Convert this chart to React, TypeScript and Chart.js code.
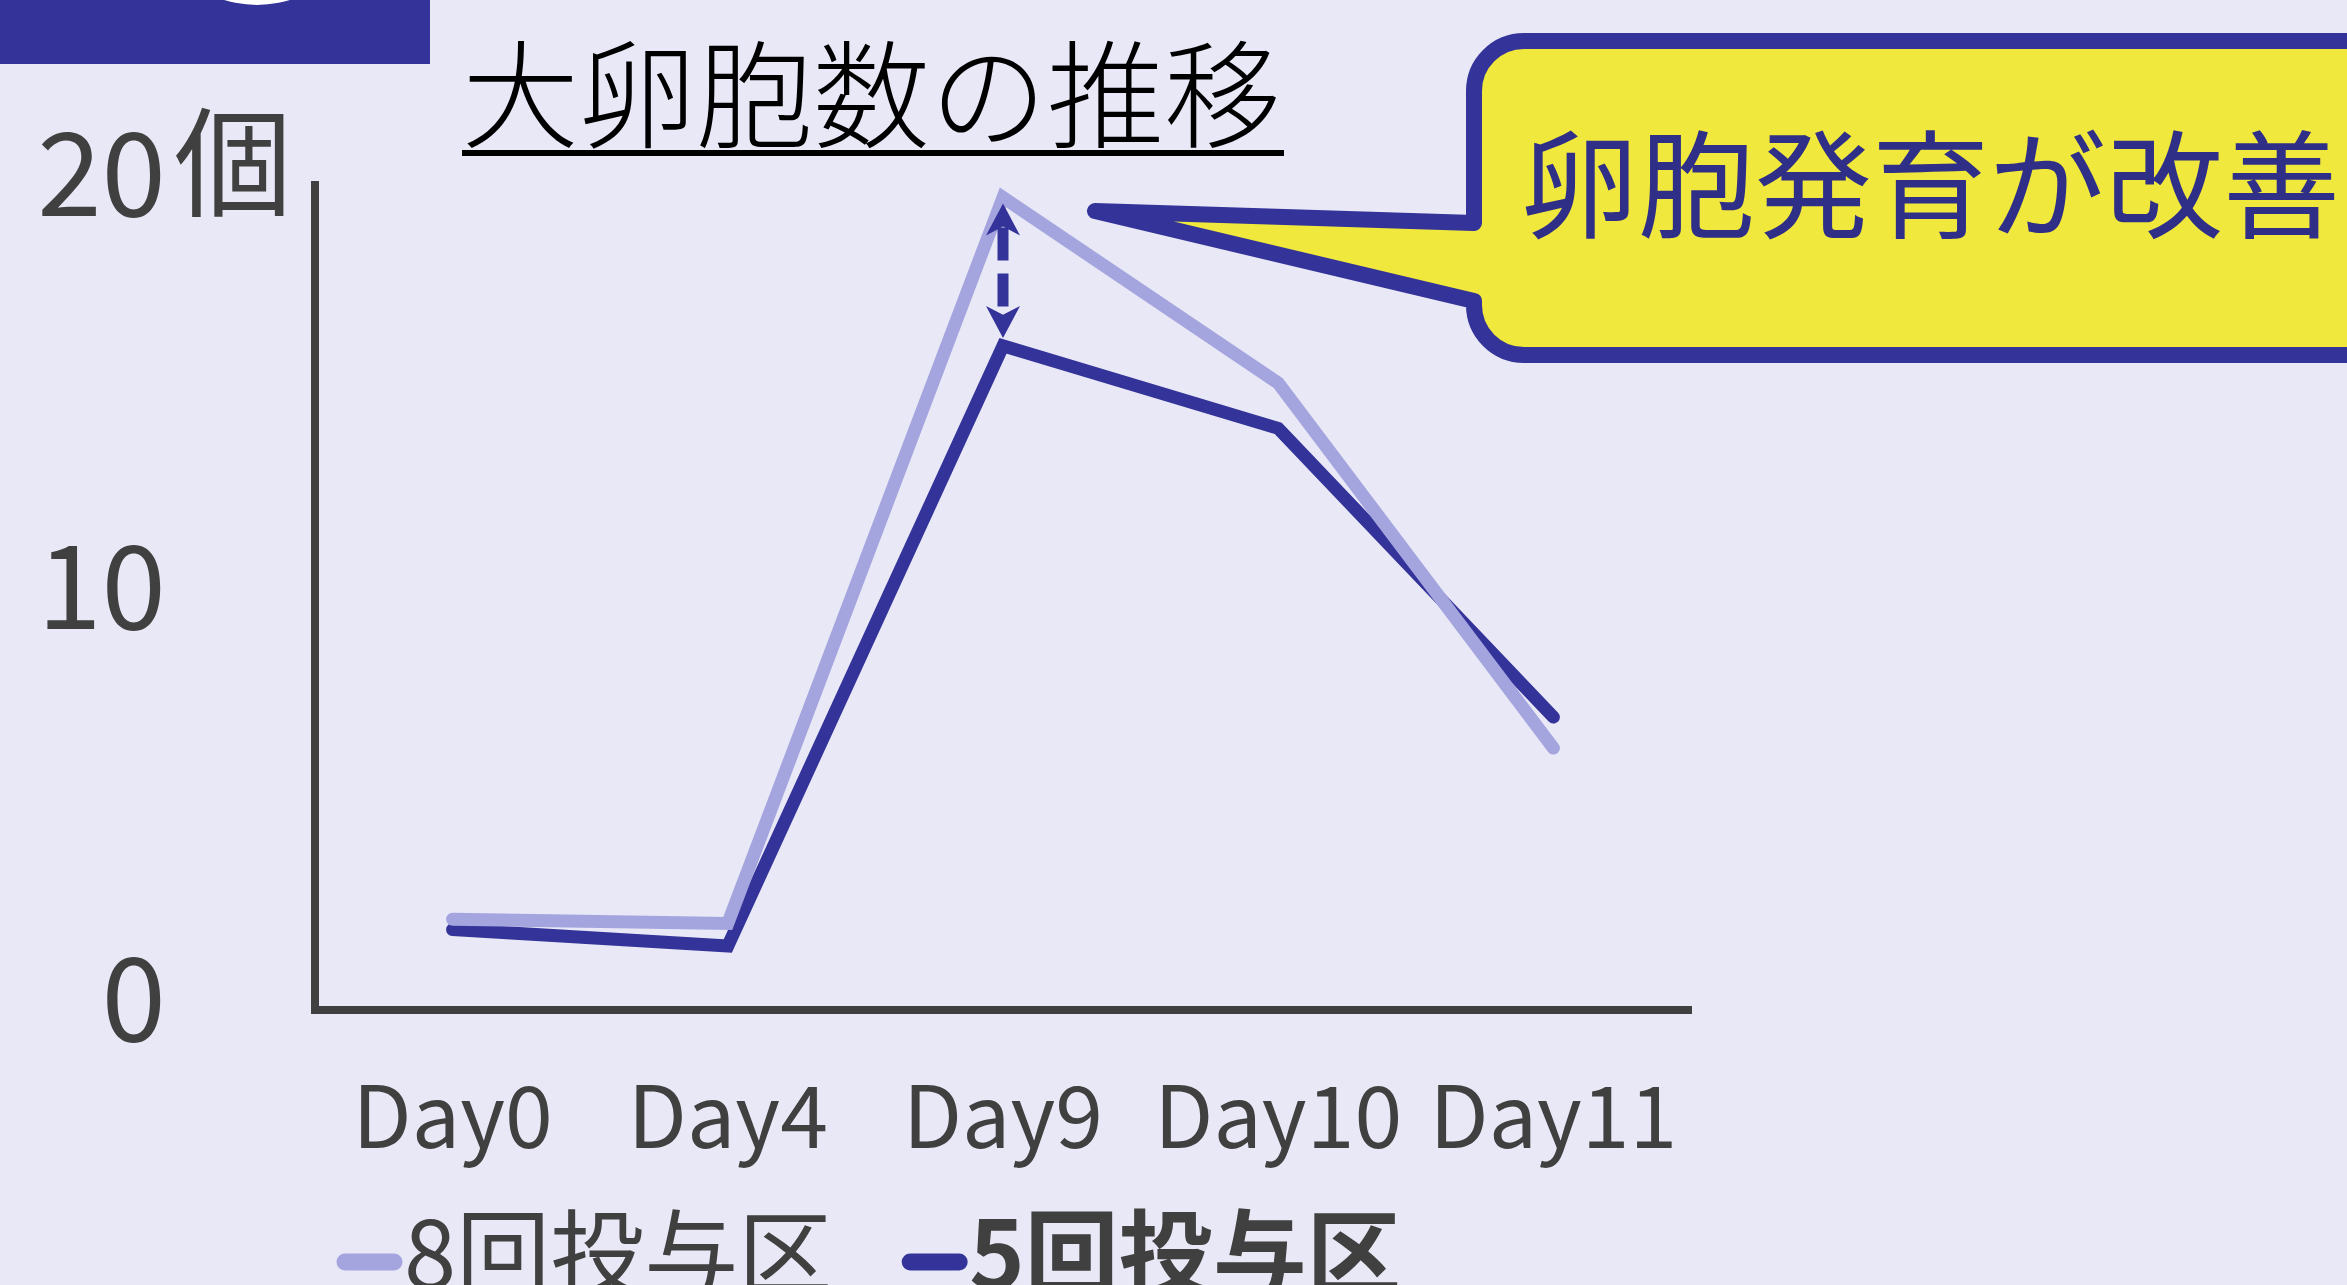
import React, { useEffect, useRef } from "react";
import { Chart, registerables } from "chart.js";

Chart.register(...registerables);

const categories = ["Day0", "Day4", "Day9", "Day10", "Day11"];
const series8 = [2.2, 2.1, 19.7, 15.2, 6.35];
const series5 = [1.95, 1.55, 16.1, 14.1, 7.1];
const seriesLabels = ["8回投与区", "5回投与区"];
const yMin = 0;
const yMax = 20;
const yStep = 10;
const yUnit = "個";
const chartTitle = "大卵胞数の推移";
const calloutText = "卵胞発育が改善";

const W = 2347;
const H = 1285;
const FONT = '"Noto Sans CJK JP", "Noto Sans CJK SC", sans-serif';
const BG = "#E9E8F7";
const LIGHT = "#A4A4DE";
const DARK = "#333399";
const AXIS = "#404040";
const YELLOW = "#F0E83C";

const decorPlugin = {
  id: "decor",
  beforeDraw(chart: any) {
    const ctx = chart.ctx;
    ctx.save();
    ctx.fillStyle = BG;
    ctx.fillRect(0, 0, W, H);
    ctx.restore();
  },
  afterDatasetsDraw(chart: any) {
    const ctx = chart.ctx;
    const xs = chart.scales.x;
    const ys = chart.scales.y;
    ctx.save();

    // top-left block
    ctx.fillStyle = DARK;
    ctx.fillRect(0, 0, 430, 64);
    ctx.fillStyle = "#FFFFFF";
    ctx.beginPath();
    ctx.arc(257, -106, 111, 0, Math.PI * 2);
    ctx.fill();

    // title
    ctx.fillStyle = "#000000";
    ctx.font = `300 117px ${FONT}`;
    ctx.textAlign = "left";
    ctx.textBaseline = "alphabetic";
    ctx.fillText(chartTitle, 462, 139);
    ctx.fillRect(462, 150, 822, 6);

    // unit next to top y tick
    ctx.fillStyle = AXIS;
    ctx.font = `118px ${FONT}`;
    ctx.fillText(yUnit, 174, ys.getPixelForValue(yMax) + 22);

    // dashed double arrow at Day9
    const idx = 2;
    const ax = xs.getPixelForValue(idx);
    const yTop = ys.getPixelForValue(series8[idx]) + 6;
    const yBot = ys.getPixelForValue(series5[idx]) - 8;
    const headL = 32;
    const headW = 17;
    ctx.strokeStyle = DARK;
    ctx.fillStyle = DARK;
    ctx.lineWidth = 11;
    ctx.setLineDash([33, 13]);
    ctx.beginPath();
    ctx.moveTo(ax, yTop + 24);
    ctx.lineTo(ax, yBot - 24);
    ctx.stroke();
    ctx.setLineDash([]);
    const head = (tipY: number, dir: number) => {
      ctx.beginPath();
      ctx.moveTo(ax, tipY);
      ctx.lineTo(ax + headW, tipY + dir * headL);
      ctx.lineTo(ax, tipY + dir * headL * 0.72);
      ctx.lineTo(ax - headW, tipY + dir * headL);
      ctx.closePath();
      ctx.fill();
    };
    head(yTop, 1);
    head(yBot, -1);

    // callout
    const L = 1474, T = 41, B = 355, R = W + 60, r = 50;
    ctx.beginPath();
    ctx.moveTo(1095, 211);
    ctx.lineTo(L, 223);
    ctx.lineTo(L, T + r);
    ctx.arcTo(L, T, L + r, T, r);
    ctx.lineTo(R, T);
    ctx.lineTo(R, B);
    ctx.lineTo(L + r, B);
    ctx.arcTo(L, B, L, B - r, r);
    ctx.lineTo(L, 301);
    ctx.closePath();
    ctx.fillStyle = YELLOW;
    ctx.fill();
    ctx.lineJoin = "round";
    ctx.lineWidth = 16;
    ctx.strokeStyle = DARK;
    ctx.stroke();
    ctx.fillStyle = "#2F2F88";
    ctx.font = `117px ${FONT}`;
    ctx.textBaseline = "alphabetic";
    ctx.fillText(calloutText, 1521, 229);

    // legend
    const ds = chart.data.datasets;
    let x = 345;
    const baseY = 1289;
    const swY = 1262;
    ds.forEach((d: any, i: number) => {
      ctx.strokeStyle = d.borderColor;
      ctx.lineWidth = 17;
      ctx.lineCap = "round";
      ctx.beginPath();
      ctx.moveTo(x, swY);
      ctx.lineTo(x + 49, swY);
      ctx.stroke();
      const tx = x + 59;
      ctx.fillStyle = AXIS;
      ctx.font = `${i === 1 ? "bold " : ""}94px ${FONT}`;
      ctx.textAlign = "left";
      ctx.fillText(d.label, tx, baseY);
      const w = ctx.measureText(d.label).width;
      x = tx + w + 78;
    });

    ctx.restore();
  },
};

export default function App() {
  const ref = useRef<HTMLCanvasElement | null>(null);
  useEffect(() => {
    if (!ref.current) return;
    const chart = new Chart(ref.current, {
      type: "line",
      data: {
        labels: categories,
        datasets: [
          {
            label: seriesLabels[0],
            data: series8,
            borderColor: LIGHT,
            backgroundColor: LIGHT,
            borderWidth: 13,
            borderCapStyle: "round",
            borderJoinStyle: "miter",
            pointRadius: 0,
            tension: 0,
            clip: false as any,
          },
          {
            label: seriesLabels[1],
            data: series5,
            borderColor: DARK,
            backgroundColor: DARK,
            borderWidth: 13,
            borderCapStyle: "round",
            borderJoinStyle: "miter",
            pointRadius: 0,
            tension: 0,
            clip: false as any,
          },
        ],
      },
      options: {
        responsive: false,
        animation: false,
        devicePixelRatio: 1,
        layout: { padding: { top: 185, right: W - 1691, bottom: 0, left: 0 } },
        plugins: {
          legend: { display: false },
          title: { display: false },
          tooltip: { enabled: false },
        },
        scales: {
          x: {
            type: "category",
            offset: true,
            grid: { display: false, drawTicks: false },
            border: { display: true, color: AXIS, width: 8 },
            ticks: {
              color: AXIS,
              font: { family: FONT, size: 86 },
              padding: 54,
              maxRotation: 0,
              autoSkip: false,
            },
            afterFit: (s: any) => {
              s.height = H - 1010;
              s.paddingLeft = 0;
              s.paddingRight = 0;
            },
          },
          y: {
            min: yMin,
            max: yMax,
            grid: { display: false, drawTicks: false },
            border: { display: true, color: AXIS, width: 8 },
            ticks: {
              stepSize: yStep,
              color: AXIS,
              font: { family: FONT, size: 116 },
              padding: 149,
              labelOffset: -13,
            },
            afterFit: (s: any) => {
              s.width = 315;
              s.paddingTop = 0;
              s.paddingBottom = 0;
            },
          },
        },
      },
      plugins: [decorPlugin],
    });
    return () => chart.destroy();
  }, []);
  return (
    <div style={{ position: "fixed", left: 0, top: 0, width: W, height: H }}>
      <canvas ref={ref} width={W} height={H} style={{ width: W, height: H }} />
    </div>
  );
}
